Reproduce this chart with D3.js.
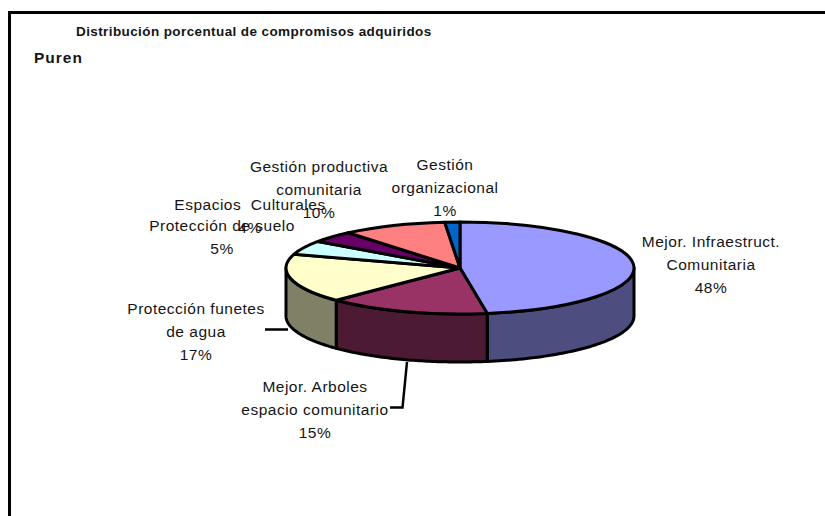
<!DOCTYPE html>
<html><head><meta charset="utf-8">
<script src="https://cdn.jsdelivr.net/npm/d3@7/dist/d3.min.js"></script>
<style>html,body{margin:0;background:#fff}svg{display:block}text{font-family:"Liberation Sans",Arial,sans-serif;fill:#151515}</style>
</head><body><svg width="825" height="516"></svg>
<script>
const categories=["Mejor. Infraestruct. Comunitaria","Mejor. Arboles espacio comunitario","Protección funetes de agua","Protección de suelo","Espacios Culturales","Gestión productiva comunitaria","Gestión organizacional"];
const values=[47.5,15.1,17.2,5.0,4.1,9.7,1.4];
const topColors=["#9999FF","#993366","#FFFFCC","#CCFFFF","#660066","#FF8080","#0066CC"];
const sideColors=["#4D4D80","#4D1A33","#808066","#668080","#330033","#804040","#003366"];
const titleText="Distribución porcentual de compromisos adquiridos";
const subtitleText="Puren";
const labelLines=[
 ["Mejor. Infraestruct.","Comunitaria","48%"],
 ["Mejor. Arboles","espacio comunitario","15%"],
 ["Protección funetes","de agua","17%"],
 ["Protección de suelo","5%"],
 ["Espacios  Culturales","4%"],
 ["Gestión productiva","comunitaria","10%"],
 ["Gestión","organizacional","1%"]];
const labelCenters=[[711,247],[315,392],[196,314],[222,231],[250,210],[319,172],[445,170]];
const lineGap=23;

const svg=d3.select("svg");
const cx=460,cy=268,rx=174,ry=46,depth=48,sw=3;

svg.append("path").attr("d","M9.5,516V12.5H825").attr("fill","none").attr("stroke","#000").attr("stroke-width",3);

const pie=d3.pie().sort(null).value(d=>d);
const arcs=pie(values);
const ptX=t=>cx+rx*Math.sin(t), ptY=t=>cy-ry*Math.cos(t);

// side walls (only the front half of the rim shows)
const wall=d3.area().x(ptX).y0(ptY).y1(t=>ptY(t)+depth);
const g=svg.append("g").attr("stroke","#000").attr("stroke-width",sw).attr("stroke-linejoin","round");
arcs.forEach((a,i)=>{
  const s=Math.max(a.startAngle,Math.PI/2),e=Math.min(a.endAngle,3*Math.PI/2);
  if(e<=s)return;
  g.append("path").attr("d",wall(d3.range(0,61).map(k=>s+(e-s)*k/60))).attr("fill",sideColors[i]);
});
// top face: d3.arc squashed to an ellipse
const arc=d3.arc().innerRadius(0).outerRadius(rx);
const face=g.append("g").attr("transform",`translate(${cx},${cy}) scale(1,${ry/rx})`);
face.selectAll("path").data(arcs).join("path").attr("d",arc)
  .attr("fill",(d,i)=>topColors[i]).attr("vector-effect","non-scaling-stroke");

// leader lines
const leader=svg.append("g").attr("fill","none").attr("stroke","#000").attr("stroke-width",2.5);
leader.append("path").attr("d","M265,329.5H288");
leader.append("path").attr("d","M407,362L402.5,407.5H390");

// labels
svg.append("text").attr("x",76).attr("y",36).attr("font-size",13.5).attr("font-weight","bold").attr("letter-spacing",0.4).text(titleText);
svg.append("text").attr("x",34).attr("y",63).attr("font-size",15.5).attr("font-weight","bold").attr("letter-spacing",1).text(subtitleText);
const lab=svg.append("g").attr("font-size",15.5).attr("letter-spacing",0.5).attr("text-anchor","middle");
labelLines.forEach((ls,i)=>{
  const [x,y]=labelCenters[i];
  ls.forEach((s,k)=>lab.append("text").attr("x",x).attr("y",y+k*lineGap).style("white-space","pre").text(s));
});
</script></body></html>
